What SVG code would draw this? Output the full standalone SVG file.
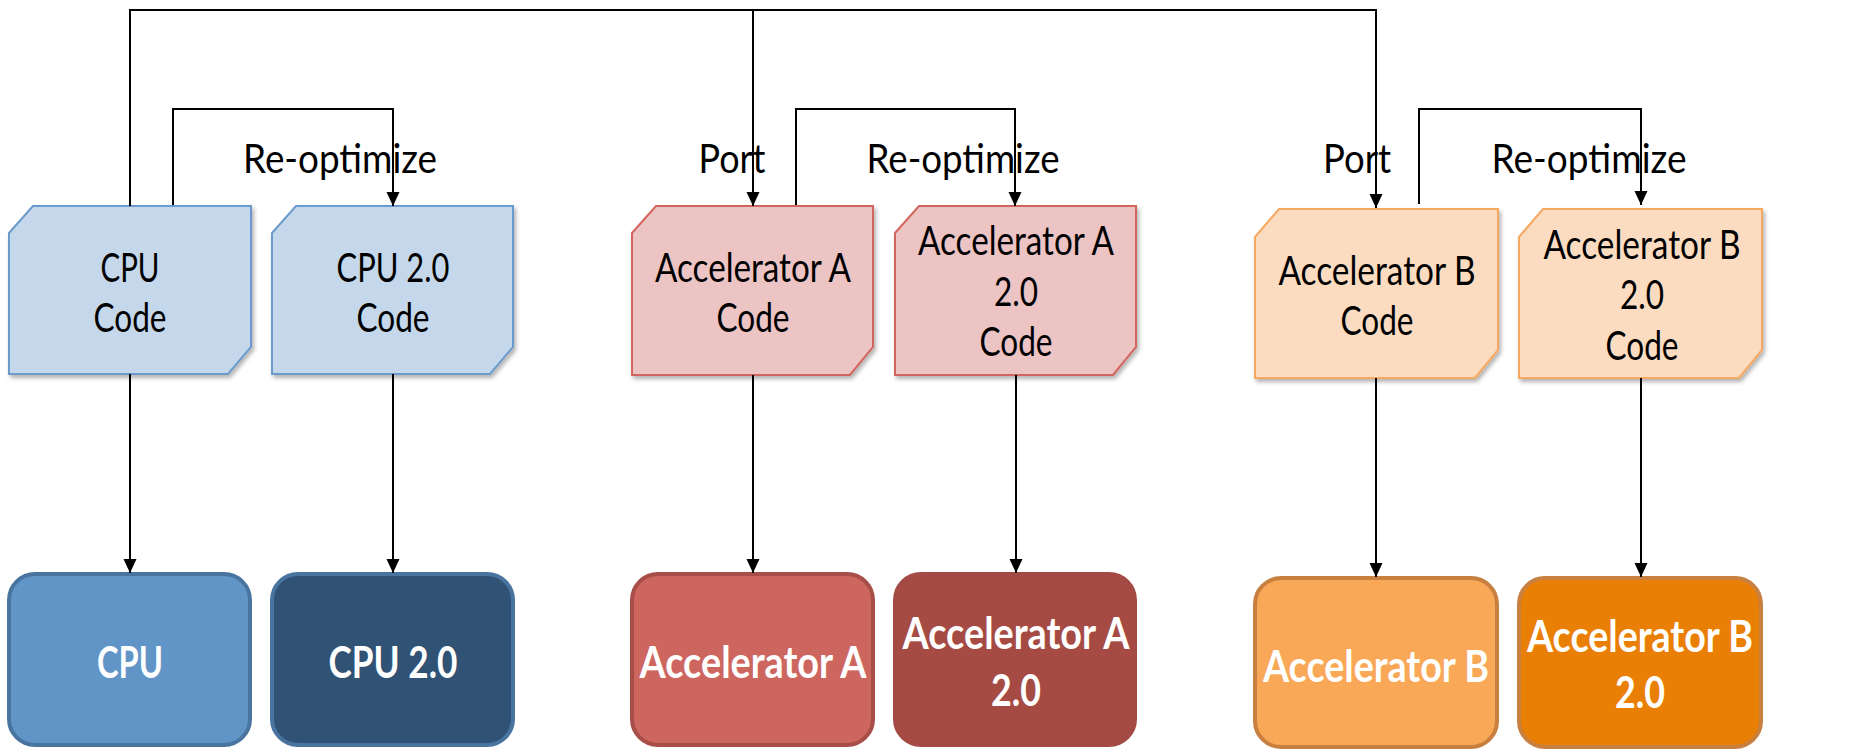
<svg xmlns="http://www.w3.org/2000/svg" width="1855" height="750" viewBox="0 0 1855 750">
<style>
.lbl{font-family:Lato,"Open Sans","Liberation Sans",sans-serif;font-size:40px;fill:#000;text-anchor:middle}
.big{font-family:Lato,"Open Sans","Liberation Sans",sans-serif;font-size:44px;font-weight:bold;fill:#fff;text-anchor:middle}
.conn{fill:none;stroke:#000;stroke-width:2}
.cpuc{fill:#C5D8EB;stroke:#6C9ACC;stroke-width:2}
.accac{fill:#ECC4C4;stroke:#D2655F;stroke-width:2}
.accbc{fill:#FBDCC1;stroke:#F5A85E;stroke-width:2}
.bx{stroke-width:4}
</style>
<defs>
<marker id="arr" markerUnits="userSpaceOnUse" markerWidth="14" markerHeight="14" refX="14" refY="6.5" orient="auto">
<path d="M0,0 L14,6.5 L0,13 Z" fill="#000"/>
</marker>
<filter id="sh" x="-10%" y="-10%" width="130%" height="130%">
<feDropShadow dx="2" dy="3" stdDeviation="2" flood-color="#000" flood-opacity="0.3"/>
</filter>
</defs>

<g id="cpu-code">
<path class="cpuc" filter="url(#sh)" d="M9,233 L33,206 L251,206 L251,347 L228,374 L9,374 Z"/>
<text class="lbl" x="130" y="282" textLength="59" lengthAdjust="spacingAndGlyphs">CPU</text>
<text class="lbl" x="130" y="332" textLength="73" lengthAdjust="spacingAndGlyphs">Code</text>
</g>
<g id="cpu2-code">
<path class="cpuc" filter="url(#sh)" d="M272,233 L296,206 L513,206 L513,347 L490,374 L272,374 Z"/>
<text class="lbl" x="393" y="282" textLength="113" lengthAdjust="spacingAndGlyphs">CPU 2.0</text>
<text class="lbl" x="393" y="332" textLength="73" lengthAdjust="spacingAndGlyphs">Code</text>
</g>
<g id="acca-code">
<path class="accac" filter="url(#sh)" d="M632,233 L656,206 L873,206 L873,347 L850,375 L632,375 Z"/>
<text class="lbl" x="753" y="282" textLength="196" lengthAdjust="spacingAndGlyphs">Accelerator A</text>
<text class="lbl" x="753" y="332" textLength="73" lengthAdjust="spacingAndGlyphs">Code</text>
</g>
<g id="acca2-code">
<path class="accac" filter="url(#sh)" d="M895,233 L919,206 L1136,206 L1136,347 L1113,375 L895,375 Z"/>
<text class="lbl" x="1016" y="255" textLength="196" lengthAdjust="spacingAndGlyphs">Accelerator A</text>
<text class="lbl" x="1016" y="306" textLength="44" lengthAdjust="spacingAndGlyphs">2.0</text>
<text class="lbl" x="1016" y="356" textLength="73" lengthAdjust="spacingAndGlyphs">Code</text>
</g>
<g id="accb-code">
<path class="accbc" filter="url(#sh)" d="M1255,237 L1279,209 L1498,209 L1498,350 L1475,378 L1255,378 Z"/>
<text class="lbl" x="1377" y="285" textLength="197" lengthAdjust="spacingAndGlyphs">Accelerator B</text>
<text class="lbl" x="1377" y="335" textLength="73" lengthAdjust="spacingAndGlyphs">Code</text>
</g>
<g id="accb2-code">
<path class="accbc" filter="url(#sh)" d="M1519,237 L1543,209 L1762,209 L1762,350 L1739,378 L1519,378 Z"/>
<text class="lbl" x="1642" y="259" textLength="197" lengthAdjust="spacingAndGlyphs">Accelerator B</text>
<text class="lbl" x="1642" y="309" textLength="44" lengthAdjust="spacingAndGlyphs">2.0</text>
<text class="lbl" x="1642" y="360" textLength="73" lengthAdjust="spacingAndGlyphs">Code</text>
</g>

<g id="cpu">
<rect class="bx" x="9" y="574" width="241" height="171" rx="26" fill="#6195C8" stroke="#4A74A0"/>
<text class="big" x="130" y="678" textLength="66" lengthAdjust="spacingAndGlyphs">CPU</text>
</g>
<g id="cpu2">
<rect class="bx" x="272" y="574" width="241" height="171" rx="26" fill="#2F5275" stroke="#4A74A0"/>
<text class="big" x="393" y="678" textLength="129" lengthAdjust="spacingAndGlyphs">CPU 2.0</text>
</g>
<g id="acca">
<rect class="bx" x="632" y="574" width="241" height="171" rx="26" fill="#CD665F" stroke="#A84E48"/>
<text class="big" x="753" y="678" textLength="227" lengthAdjust="spacingAndGlyphs">Accelerator A</text>
</g>
<g id="acca2">
<rect class="bx" x="895" y="574" width="240" height="171" rx="26" fill="#A64A44" stroke="#A44A44"/>
<text class="big" x="1016" y="649" textLength="227" lengthAdjust="spacingAndGlyphs">Accelerator A</text>
<text class="big" x="1016" y="706" textLength="50" lengthAdjust="spacingAndGlyphs">2.0</text>
</g>
<g id="accb">
<rect class="bx" x="1255" y="578" width="242" height="169" rx="26" fill="#F9A857" stroke="#C88040"/>
<text class="big" x="1376" y="682" textLength="226" lengthAdjust="spacingAndGlyphs">Accelerator B</text>
</g>
<g id="accb2">
<rect class="bx" x="1519" y="578" width="242" height="169" rx="26" fill="#EA7F06" stroke="#C88040"/>
<text class="big" x="1640" y="652" textLength="226" lengthAdjust="spacingAndGlyphs">Accelerator B</text>
<text class="big" x="1640" y="708" textLength="50" lengthAdjust="spacingAndGlyphs">2.0</text>
</g>

<g id="connectors">
<path class="conn" d="M130,206 V10 H1376 V208" marker-end="url(#arr)"/>
<path class="conn" d="M753,10 V206" marker-end="url(#arr)"/>
<path class="conn" d="M173,205 V109 H393 V206" marker-end="url(#arr)"/>
<path class="conn" d="M796,205 V109 H1015 V206" marker-end="url(#arr)"/>
<path class="conn" d="M1419,204 V109 H1641 V205" marker-end="url(#arr)"/>
<path class="conn" d="M130,374 V573" marker-end="url(#arr)"/>
<path class="conn" d="M393,374 V573" marker-end="url(#arr)"/>
<path class="conn" d="M753,375 V573" marker-end="url(#arr)"/>
<path class="conn" d="M1016,375 V573" marker-end="url(#arr)"/>
<path class="conn" d="M1376,378 V577" marker-end="url(#arr)"/>
<path class="conn" d="M1641,378 V577" marker-end="url(#arr)"/>
</g>

<g id="labels">
<text class="lbl" x="340" y="173" textLength="194" lengthAdjust="spacingAndGlyphs">Re-optimize</text>
<text class="lbl" x="732" y="173" textLength="67" lengthAdjust="spacingAndGlyphs">Port</text>
<text class="lbl" x="963" y="173" textLength="193" lengthAdjust="spacingAndGlyphs">Re-optimize</text>
<text class="lbl" x="1357" y="173" textLength="68" lengthAdjust="spacingAndGlyphs">Port</text>
<text class="lbl" x="1589" y="173" textLength="195" lengthAdjust="spacingAndGlyphs">Re-optimize</text>
</g>
</svg>
